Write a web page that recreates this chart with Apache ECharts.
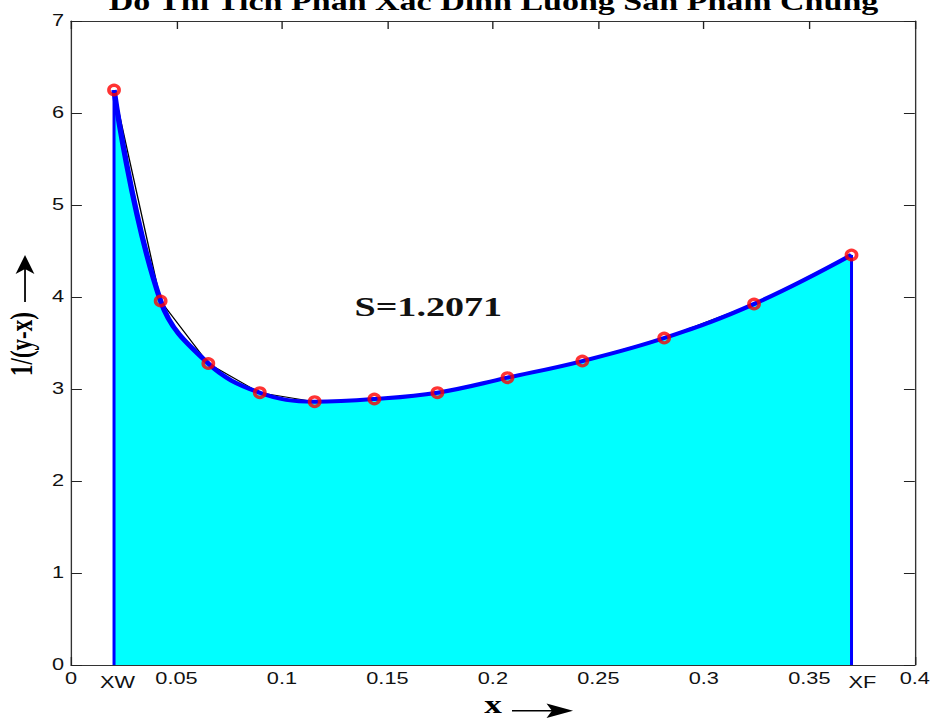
<!DOCTYPE html>
<html>
<head>
<meta charset="utf-8">
<script src="https://cdn.jsdelivr.net/npm/echarts@6/dist/echarts.min.js"></script>
<style>
html,body{margin:0;padding:0;background:#fff;overflow:hidden;}
#chart{width:687px;height:719px;transform:scaleX(1.35953);transform-origin:0 0;}
</style>
</head>
<body>
<div id="chart"></div>
<script>
// ---- data ----
const titleText = 'Do Thi Tich Phan Xac Dinh Luong San Pham Chung';
const areaText = 'S=1.2071';
const xValues = [0.0204, 0.0425, 0.0651, 0.0895, 0.1155, 0.1438, 0.1737, 0.2069, 0.2424, 0.2812, 0.3238, 0.3700];
const yValues = [6.25, 3.957, 3.277, 2.96, 2.862, 2.891, 2.96, 3.123, 3.304, 3.554, 3.924, 4.457];
const xTickValues = [0, 0.05, 0.1, 0.15, 0.2, 0.25, 0.3, 0.35, 0.4];
const xTickLabels = ['0', '0.05', '0.1', '0.15', '0.2', '0.25', '0.3', '0.35', '0.4'];
const xEndLabels = ['XW', 'XF'];
const yTickValues = [0, 1, 2, 3, 4, 5, 6, 7];
const xAxisName = 'x';
const yAxisName = '1/(y-x)';

// ---- build ----
const pts = xValues.map((x, i) => [x, yValues[i]]);
const XW = xValues[0], XF = xValues[xValues.length - 1];
const labelVals = xTickValues.concat([XW, XF]).sort((a, b) => a - b);
function labelFor(v) {
  if (Math.abs(v - XW) < 1e-9) return '{xw|' + xEndLabels[0] + '}';
  if (Math.abs(v - XF) < 1e-9) return '{xf|' + xEndLabels[1] + '}';
  const i = xTickValues.findIndex(t => Math.abs(t - v) < 1e-9);
  return i >= 0 ? xTickLabels[i] : '';
}
const frameLine = {show: true, onZero: false, lineStyle: {color: '#333', width: 1}};
const tickIn = {show: true, inside: true, length: 8, lineStyle: {color: '#222', width: 1}};
const lblFont = {fontFamily: 'Liberation Sans', fontSize: 16, color: '#111'};

const chart = echarts.init(document.getElementById('chart'), null, {renderer: 'svg'});
chart.setOption({
  animation: false,
  backgroundColor: '#fff',
  grid: {left: 52.22, right: 13.24, top: 21, bottom: 54},
  xAxis: [{
    type: 'value', min: 0, max: 0.4, interval: 0.05, position: 'bottom',
    axisLine: frameLine, splitLine: {show: false},
    axisTick: Object.assign({}, tickIn, {customValues: xTickValues}),
    axisLabel: Object.assign({}, lblFont, {
      margin: 6, customValues: labelVals, formatter: labelFor,
      rich: {
        xw: {fontFamily: 'Liberation Sans', fontSize: 16, color: '#111', padding: [4, 0, 0, 5]},
        xf: {fontFamily: 'Liberation Sans', fontSize: 16, color: '#111', padding: [4, 0, 0, 16]}
      }
    })
  }, {
    type: 'value', min: 0, max: 0.4, interval: 0.05, position: 'top',
    axisLine: frameLine, splitLine: {show: false}, axisTick: tickIn, axisLabel: {show: false}
  }],
  yAxis: [{
    type: 'value', min: 0, max: 7, interval: 1, position: 'left',
    axisLine: frameLine, splitLine: {show: false}, axisTick: tickIn,
    axisLabel: Object.assign({}, lblFont, {margin: 5})
  }, {
    type: 'value', min: 0, max: 7, interval: 1, position: 'right',
    axisLine: frameLine, splitLine: {show: false}, axisTick: tickIn, axisLabel: {show: false}
  }],
  series: [
    {type: 'line', data: pts, smooth: 0.4, showSymbol: false, z: 1,
     lineStyle: {width: 0, opacity: 0}, areaStyle: {color: '#00FFFF', opacity: 1}},
    {type: 'line', data: pts, smooth: false, showSymbol: false, z: 2,
     lineStyle: {color: '#000', width: 1}},
    {type: 'line', data: pts, smooth: 0.4, showSymbol: false, z: 3,
     lineStyle: {color: '#0000FF', width: 4}},
    {type: 'line', data: [[XW, 0], pts[0]], showSymbol: false, z: 3,
     lineStyle: {color: '#0000FF', width: 2.2}},
    {type: 'line', data: [[XF, 0], pts[pts.length - 1]], showSymbol: false, z: 3,
     lineStyle: {color: '#0000FF', width: 2.2}},
    {type: 'scatter', data: pts, symbol: 'circle', symbolSize: [7.5, 9.5], z: 4,
     itemStyle: {color: 'transparent', borderColor: '#FF0000', borderWidth: 3}}
  ],
  graphic: [
    {type: 'text', x: 363, y: 1, z: 10,
     style: {text: titleText, fontFamily: 'Liberation Serif', fontWeight: 'bold', fontSize: 25, fill: '#000', align: 'center', verticalAlign: 'middle'}},
    {type: 'text', x: 315, y: 306, z: 10,
     style: {text: areaText, fontFamily: 'Liberation Serif', fontWeight: 'bold', fontSize: 28, fill: '#111', align: 'center', verticalAlign: 'middle'}},
    {type: 'text', x: 362.6, y: 704, z: 10,
     style: {text: xAxisName, fontFamily: 'Liberation Serif', fontWeight: 'bold', fontSize: 26, fill: '#000', align: 'center', verticalAlign: 'middle'}},
    {type: 'line', z: 10, shape: {x1: 376.6, y1: 710.7, x2: 408, y2: 710.7}, style: {stroke: '#000', lineWidth: 1.5}},
    {type: 'polygon', z: 10, shape: {points: [[421.5, 710.7], [402, 703.5], [406, 710.7], [402, 718]]}, style: {fill: '#000'}},
    {type: 'text', x: 16, y: 344, rotation: Math.PI / 2, z: 10,
     style: {text: yAxisName, fontFamily: 'Liberation Serif', fontWeight: 'bold', fontSize: 23, fill: '#000', align: 'center', verticalAlign: 'middle'}},
    {type: 'line', z: 10, shape: {x1: 18.4, y1: 302, x2: 18.4, y2: 268}, style: {stroke: '#000', lineWidth: 1.3}},
    {type: 'polygon', z: 10, shape: {points: [[18.4, 255], [11.5, 274], [18.4, 269], [25.3, 274]]}, style: {fill: '#000'}}
  ]
});
</script>
</body>
</html>
